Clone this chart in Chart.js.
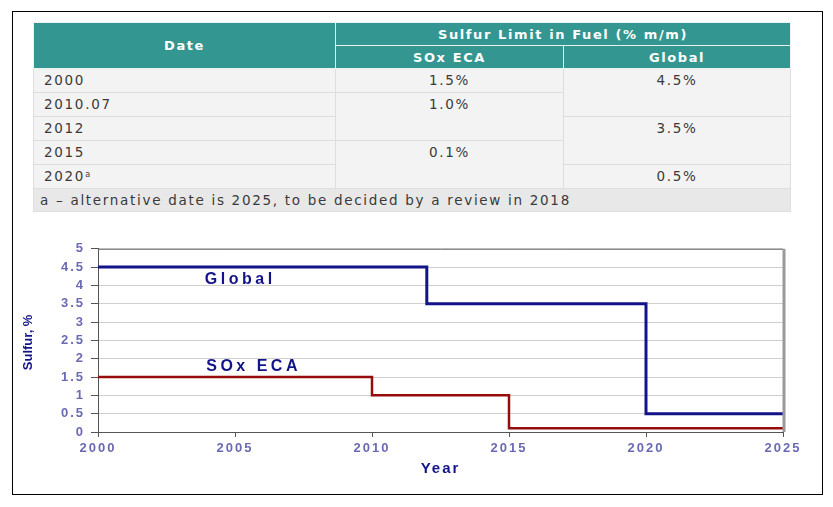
<!DOCTYPE html>
<html>
<head>
<meta charset="utf-8">
<script src="https://cdn.jsdelivr.net/npm/chart.js@4/dist/chart.umd.min.js"></script>
<style>
  body { margin: 0; width: 833px; height: 507px; background: #fff; position: relative; overflow: hidden; }
  #frame { position: absolute; left: 12px; top: 11px; width: 809px; height: 482px; border: 1px solid #000; }
  table { position: absolute; left: 33px; top: 22px; width: 758px; border-collapse: collapse; font-family: "DejaVu Sans", sans-serif; font-size: 13.5px; letter-spacing: 1.7px; color: #3a3a3a; }
  th { background: #339690; color: #fff; font-weight: bold; font-size: 13px; letter-spacing: 1.6px; border: 1px solid #e8f2f1; height: 22px; padding: 0; }
  td { background: #f3f3f3; border: 1px solid #dedede; height: 23px; padding: 0 8px; vertical-align: top; line-height: 22px; text-align: center; }
  td.d { text-align: left; padding-left: 10px; }
  td.note { background: #e8e8e8; text-align: left; height: 21px; padding-left: 6px; }
  sup { font-size: 8px; line-height: 0; vertical-align: 4px; letter-spacing: 0; }
  #wrap { position: absolute; left: 0; top: 235px; width: 833px; height: 265px; }
</style>
</head>
<body>
<div id="frame"></div>
<table>
  <tr><th rowspan="2" style="width:301px">Date</th><th colspan="2">Sulfur Limit in Fuel (% m/m)</th></tr>
  <tr><th style="width:227px">SOx ECA</th><th>Global</th></tr>
  <tr><td class="d">2000</td><td>1.5%</td><td rowspan="2">4.5%</td></tr>
  <tr><td class="d">2010.07</td><td rowspan="2">1.0%</td></tr>
  <tr><td class="d">2012</td><td rowspan="2">3.5%</td></tr>
  <tr><td class="d">2015</td><td rowspan="2">0.1%</td></tr>
  <tr><td class="d">2020<sup>a</sup></td><td>0.5%</td></tr>
  <tr><td class="note" colspan="3">a – alternative date is 2025, to be decided by a review in 2018</td></tr>
</table>
<div id="wrap"><canvas id="chart"></canvas></div>
<script>
// Step data
var globalYears = [2000, 2012, 2020, 2025];
var globalLimits = [4.5, 3.5, 0.5, 0.5];
var ecaYears = [2000, 2010, 2015, 2025];
var ecaLimits = [1.5, 1.0, 0.1, 0.1];

var navy = '#13138a';
var tickBlue = '#6a6ab4';
var sans = '"Liberation Sans", Arial, sans-serif';

function toPoints(xs, ys) {
  return xs.map(function (x, i) { return { x: x, y: ys[i] }; });
}

// wider lettering like the original picture
var spacing = {
  id: 'spacing',
  beforeDraw: function (chart) { chart.ctx.letterSpacing = '2px'; }
};

// labels inside the plot, y title, frame on top/right
var decor = {
  id: 'decor',
  afterDraw: function (chart) {
    var c = chart.ctx, a = chart.chartArea;
    var xs = chart.scales.x, ys = chart.scales.y;
    c.save();
    c.strokeStyle = '#6e6e6e';
    c.lineWidth = 1;
    c.beginPath();
    c.moveTo(a.left, a.top + 0.5);
    c.lineTo(a.right, a.top + 0.5);
    c.stroke();
    c.strokeStyle = '#9a9a9a';
    c.lineWidth = 3;
    c.beginPath();
    c.moveTo(a.right + 1, a.top);
    c.lineTo(a.right + 1, a.bottom);
    c.stroke();

    c.fillStyle = navy;
    c.letterSpacing = '3.5px';
    c.font = 'bold 16px ' + sans;
    c.textBaseline = 'middle';
    c.textAlign = 'left';
    c.fillText('Global', xs.getPixelForValue(2003.9), ys.getPixelForValue(4.16));
    c.fillText('SOx ECA', xs.getPixelForValue(2003.95), ys.getPixelForValue(1.78));

    c.letterSpacing = '0px';
    c.font = 'bold 13px ' + sans;
    c.textAlign = 'center';
    c.translate(28, (a.top + a.bottom) / 2 + 2);
    c.rotate(-Math.PI / 2);
    c.fillText('Sulfur, %', 0, 0);
    c.restore();
  }
};

new Chart(document.getElementById('chart'), {
  type: 'line',
  data: {
    datasets: [{
      label: 'Global',
      data: toPoints(globalYears, globalLimits),
      stepped: 'before',
      borderColor: navy,
      borderWidth: 3,
      pointRadius: 0,
      fill: false
    }, {
      label: 'SOx ECA',
      data: toPoints(ecaYears, ecaLimits),
      stepped: 'before',
      borderColor: '#960c0c',
      borderWidth: 2.5,
      pointRadius: 0,
      fill: false
    }]
  },
  options: {
    responsive: true,
    maintainAspectRatio: false,
    animation: false,
    layout: { padding: { top: 12, right: 50, left: 0, bottom: 22 } },
    plugins: { legend: { display: false }, tooltip: { enabled: false } },
    scales: {
      x: {
        type: 'linear',
        min: 2000,
        max: 2025,
        afterFit: function (s) { s.height = 46; },
        grid: { drawOnChartArea: false, drawTicks: true, tickLength: 5, tickColor: '#555' },
        border: { color: '#555', width: 1 },
        ticks: {
          stepSize: 5,
          color: tickBlue,
          padding: 4,
          font: { family: sans, size: 13, weight: 'bold' },
          callback: function (v) { return String(v); }
        },
        title: {
          display: true,
          text: 'Year',
          color: navy,
          padding: { top: 0, bottom: 0 },
          font: { family: sans, size: 15, weight: 'bold' }
        }
      },
      y: {
        min: 0,
        max: 5,
        afterFit: function (s) { s.width = 98; },
        grid: { color: '#cfcfcf', tickColor: '#555', tickLength: 7 },
        border: { color: '#555', width: 1 },
        ticks: {
          stepSize: 0.5,
          autoSkip: false,
          color: tickBlue,
          padding: 6,
          font: { family: sans, size: 13, weight: 'bold' },
          callback: function (v) { return String(v); }
        }
      }
    }
  },
  plugins: [spacing, decor]
});
</script>
</body>
</html>
